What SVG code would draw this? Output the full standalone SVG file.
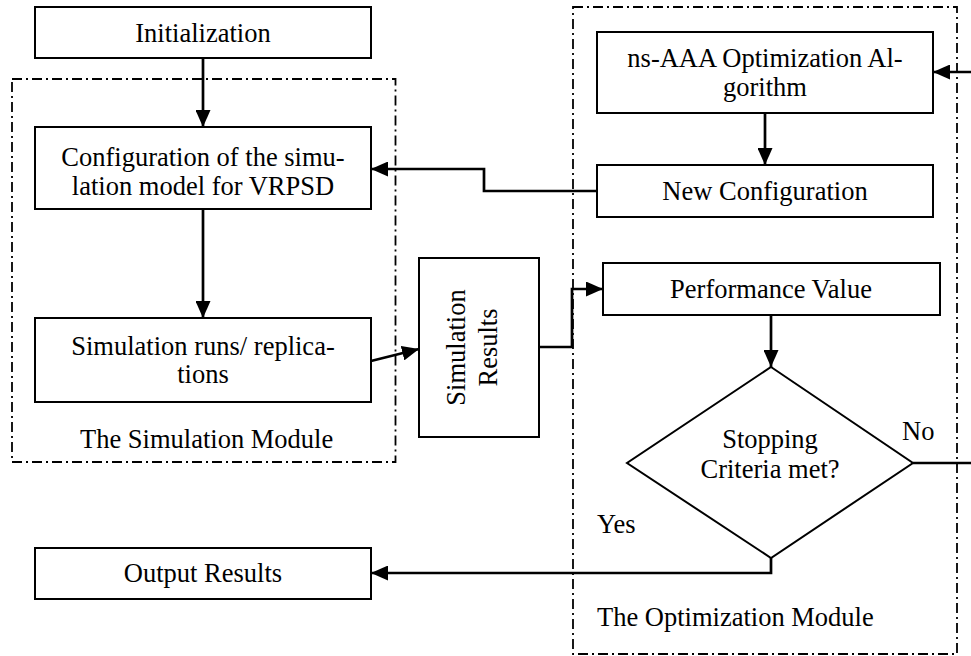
<svg xmlns="http://www.w3.org/2000/svg" width="971" height="656" viewBox="0 0 971 656">
<style>
  .box { fill: #ffffff; stroke: #000000; stroke-width: 2; }
  .module { fill: none; stroke: #000000; stroke-width: 1.8; stroke-dasharray: 10 4 2 4; }
  .conn { fill: none; stroke: #000000; stroke-width: 2.7; }
  text { font-family: "Liberation Serif", "Times New Roman", serif; font-size: 26.5px; fill: #000000; }
  .c { text-anchor: middle; }
</style>
<defs>
  <marker id="arrow" markerUnits="userSpaceOnUse" markerWidth="17" markerHeight="15" refX="17" refY="7.5" orient="auto">
    <path d="M0,0 L17,7.5 L0,15 Z" fill="#000000"/>
  </marker>
</defs>
<rect width="971" height="656" fill="#ffffff"/>

<g id="simulation-module">
  <rect class="module" x="12" y="79" width="383.5" height="383"/>
  <text x="80" y="448">The Simulation Module</text>
</g>
<g id="optimization-module">
  <rect class="module" x="573" y="7" width="384" height="647"/>
  <text x="597" y="626">The Optimization Module</text>
</g>

<g id="connectors">
  <path class="conn" d="M203,58 V127" marker-end="url(#arrow)"/>
  <path class="conn" d="M203,209 V318" marker-end="url(#arrow)"/>
  <path class="conn" d="M371,361 L419,349" marker-end="url(#arrow)"/>
  <path class="conn" d="M539,347 H572 V289 H603" marker-end="url(#arrow)"/>
  <path class="conn" d="M765,113 V165" marker-end="url(#arrow)"/>
  <path class="conn" d="M597,191 H484 V169 H371" marker-end="url(#arrow)"/>
  <path class="conn" d="M771,315 V367" marker-end="url(#arrow)"/>
  <path class="conn" d="M771,558 V573 H371" marker-end="url(#arrow)"/>
  <path class="conn" d="M913,463 H971"/>
  <path class="conn" d="M971,72 H933" marker-end="url(#arrow)"/>
</g>

<g id="initialization">
  <rect class="box" x="35" y="7" width="336" height="51"/>
  <text class="c" x="203" y="42">Initialization</text>
</g>
<g id="configuration">
  <rect class="box" x="35" y="127" width="336" height="82"/>
  <text class="c" x="203" y="166">Configuration of the simu-</text>
  <text class="c" x="203" y="195">lation model for VRPSD</text>
</g>
<g id="simulation-runs">
  <rect class="box" x="35" y="318" width="336" height="84"/>
  <text class="c" x="203" y="355">Simulation runs/ replica-</text>
  <text class="c" x="203" y="383">tions</text>
</g>
<g id="simulation-results">
  <rect class="box" x="419" y="258" width="120" height="179"/>
  <g transform="translate(471,347.5) rotate(-90)">
    <text class="c" x="0" y="-6">Simulation</text>
    <text class="c" x="0" y="26">Results</text>
  </g>
</g>
<g id="ns-aaa">
  <rect class="box" x="597" y="32" width="336" height="81"/>
  <text class="c" x="765" y="67">ns-AAA Optimization Al-</text>
  <text class="c" x="765" y="96">gorithm</text>
</g>
<g id="new-configuration">
  <rect class="box" x="597" y="165" width="336" height="52"/>
  <text class="c" x="765" y="200">New Configuration</text>
</g>
<g id="performance-value">
  <rect class="box" x="603" y="263" width="337" height="52"/>
  <text class="c" x="771" y="298">Performance Value</text>
</g>
<g id="stopping-criteria">
  <polygon class="box" points="771,367 913,463 771,558 627,463"/>
  <text class="c" x="770" y="448">Stopping</text>
  <text class="c" x="770" y="478">Criteria met?</text>
  <text x="902" y="440">No</text>
  <text x="597" y="533">Yes</text>
</g>
<g id="output-results">
  <rect class="box" x="35" y="548" width="336" height="51"/>
  <text class="c" x="203" y="582">Output Results</text>
</g>
</svg>
